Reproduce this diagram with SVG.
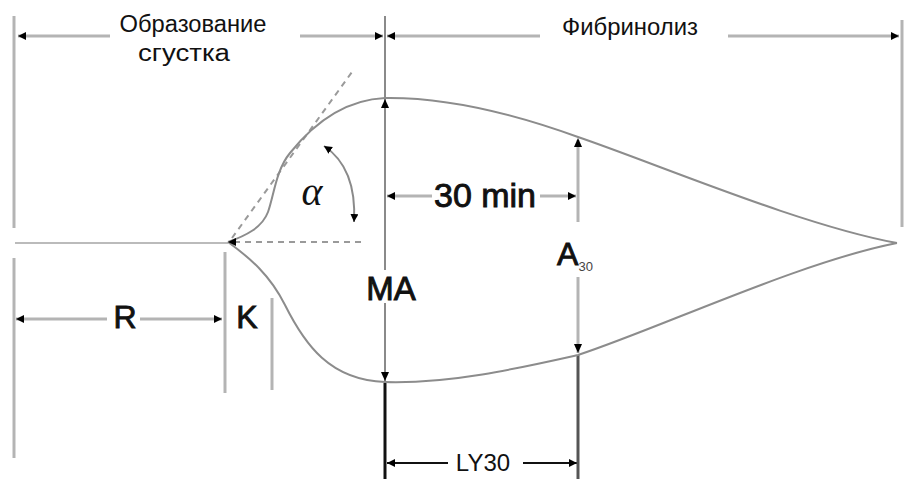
<svg xmlns="http://www.w3.org/2000/svg" width="917" height="479" viewBox="0 0 917 479">
<defs>
<marker id="ah" markerUnits="userSpaceOnUse" markerWidth="10" markerHeight="10" refX="8" refY="4" orient="auto-start-reverse">
<path d="M0,0 L8,4 L0,8 z" fill="#000"/>
</marker>
<style>
.g{stroke:#b4b4b4;stroke-width:3;fill:none}
.gd{stroke:#8a8a8a;stroke-width:2;fill:none}
.cv{stroke:#8c8c8c;stroke-width:2;fill:none}
.ds{stroke:#9a9a9a;stroke-width:2;stroke-dasharray:6,5;fill:none}
.dim{stroke:#b4b4b4;stroke-width:3;fill:none}
.blk{stroke:#111;stroke-width:3;fill:none}
.t{font-family:"Liberation Sans",Arial,sans-serif;fill:#111}
.b{stroke:#111;stroke-width:0.9}
.ar{fill:#000}
</style>
</defs>
<rect width="917" height="479" fill="#fff"/>
<g id="connectors">
<line class="g" x1="14" y1="16" x2="14" y2="228"/>
<line class="g" x1="14" y1="258" x2="14" y2="458"/>
<line class="g" x1="902" y1="20" x2="902" y2="227"/>
<line class="g" x1="225" y1="252" x2="225" y2="393"/>
<line class="g" x1="272" y1="298" x2="272" y2="390"/>
<line x1="15" y1="243" x2="228" y2="243" stroke="#bbb" stroke-width="2"/>
<line class="ds" x1="234" y1="242" x2="365" y2="242"/>
<line class="ds" x1="232" y1="238" x2="352" y2="72"/>
<line class="dim" x1="18" y1="36" x2="110" y2="36" marker-start="url(#ah)"/>
<line class="dim" x1="300" y1="36" x2="383" y2="36" marker-end="url(#ah)"/>
<line class="dim" x1="387" y1="36" x2="540" y2="36" marker-start="url(#ah)"/>
<line class="dim" x1="728" y1="36" x2="899" y2="36" marker-end="url(#ah)"/>
<line class="dim" x1="16" y1="319" x2="107" y2="319" marker-start="url(#ah)"/>
<line class="dim" x1="140" y1="319" x2="222" y2="319" marker-end="url(#ah)"/>
<line class="dim" x1="387" y1="196" x2="432" y2="196" marker-start="url(#ah)"/>
<line class="dim" x1="540" y1="196" x2="576" y2="196" marker-end="url(#ah)"/>
<line x1="387" y1="463" x2="448" y2="463" stroke="#111" stroke-width="2" marker-start="url(#ah)"/>
<line x1="523" y1="463" x2="577" y2="463" stroke="#111" stroke-width="2" marker-end="url(#ah)"/>
<line class="gd" x1="385" y1="16" x2="385" y2="270"/>
<line class="gd" x1="385" y1="303" x2="385" y2="383"/>
<line class="blk" x1="385" y1="383" x2="385" y2="479"/>
<line class="g" x1="578" y1="140" x2="578" y2="222"/>
<line class="g" x1="578" y1="277" x2="578" y2="353"/>
<line x1="578" y1="355" x2="578" y2="479" stroke="#555" stroke-width="3"/>
<path class="cv" d="M228,242 C245,236 262,228 268,212 C274,195 276,170 290,153 C310,128 340,100 385,98 C450,97 520,116 578,137 C660,165 800,225 897,243"/>
<path class="cv" d="M228,242 C250,258 270,275 285,305 C305,345 330,380 385,382 C450,384 520,368 578,355 C660,328 800,262 897,243"/>
<path class="gd" d="M324,146 C345,160 356,185 354,222" marker-start="url(#ah)" marker-end="url(#ah)"/>
<polygon class="ar" points="385,99 381,108 389,108"/>
<polygon class="ar" points="385,381 381,372 389,372"/>
<polygon class="ar" points="578,138 574,147 582,147"/>
<polygon class="ar" points="578,353 574,344 582,344"/>
<polygon class="ar" points="228,242 236,238 236,246"/>
</g>
<g id="labels">
<text class="t" x="193" y="32" font-size="23" text-anchor="middle" textLength="147" lengthAdjust="spacingAndGlyphs">Образование</text>
<text class="t" x="184" y="61" font-size="23" text-anchor="middle" textLength="92" lengthAdjust="spacingAndGlyphs">сгустка</text>
<text class="t" x="630" y="35" font-size="23" text-anchor="middle" textLength="136" lengthAdjust="spacingAndGlyphs">Фибринолиз</text>
<text x="312" y="205" font-family="Liberation Serif,serif" font-style="italic" font-size="40" text-anchor="middle" fill="#111">α</text>
<text class="t b" x="485" y="207" font-size="34" text-anchor="middle">30 min</text>
<text class="t b" x="391" y="300" font-size="33" text-anchor="middle">MA</text>
<text class="t b" x="575" y="265" font-size="32" text-anchor="middle">A<tspan font-size="13" dy="6" stroke="none" fill="#444">30</tspan></text>
<text class="t b" x="125" y="328" font-size="32" text-anchor="middle">R</text>
<text class="t b" x="247" y="328" font-size="32" text-anchor="middle">K</text>
<text class="t" x="483" y="471" font-size="24" text-anchor="middle" fill="#222">LY30</text>
</g>
</svg>
